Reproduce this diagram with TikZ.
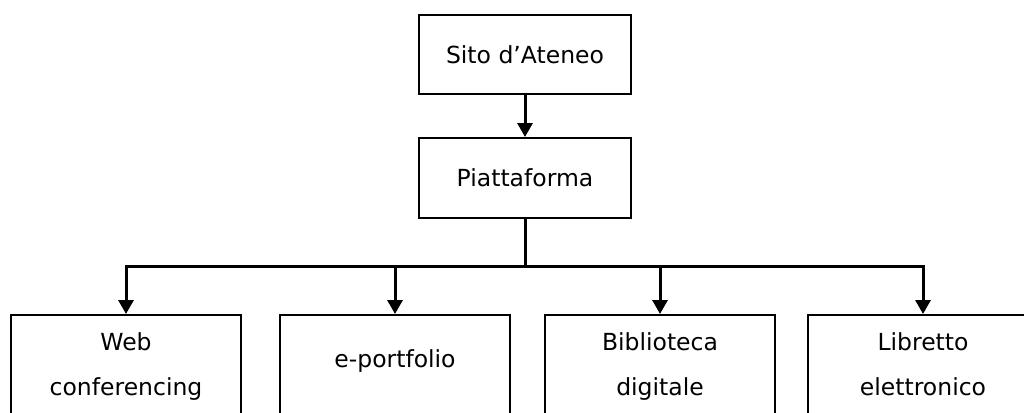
\documentclass[tikz,border=0pt]{standalone}
\usepackage{fontspec}
\setmainfont{DejaVu Sans}
\usetikzlibrary{arrows.meta}
\newcommand\linestrut{\vrule height 21pt depth 6pt width 0pt}
\begin{document}
\begin{tikzpicture}[x=1pt,y=-1pt,
  box/.style={draw, line width=2pt, inner sep=0pt, align=center,
    font=\fontsize{23.5}{45}\selectfont},
  topbox/.style={box, minimum width=212pt, minimum height=79pt},
  leafbox/.style={box, minimum width=230pt, minimum height=100pt},
  conn/.style={line width=3pt},
  arr/.style={conn, -{Triangle[width=15pt,length=14pt]}}]
\useasboundingbox (0,0) rectangle (1024,412);
\clip (0,0) rectangle (1024,412);
\node[topbox] (sito) at (525,54.5) {Sito d’Ateneo};
\node[topbox, minimum height=80pt] (pia) at (525,178) {Piattaforma};
\node[leafbox] (web) at (126,365) {Web\linestrut\\conferencing\linestrut};
\node[leafbox] (epf) at (395,365) {e-portfolio\vrule height 21pt depth 17pt width 0pt};
\node[leafbox] (bib) at (660,365) {Biblioteca\linestrut\\digitale\linestrut};
\node[leafbox] (lib) at (923,365) {Libretto\linestrut\\elettronico\linestrut};
\coordinate (hub) at (525,266);
\draw[arr] (sito) -- (pia);
\draw[conn] (pia.south) -- (hub);
\draw[arr] (hub) -| (web.north);
\draw[arr] (hub) -| (epf.north);
\draw[arr] (hub) -| (bib.north);
\draw[arr] (hub) -| (lib.north);
\end{tikzpicture}
\end{document}
